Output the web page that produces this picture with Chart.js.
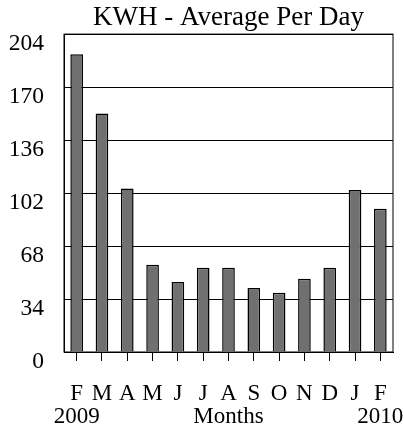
<!DOCTYPE html>
<html>
<head>
<meta charset="utf-8">
<script src="https://cdn.jsdelivr.net/npm/chart.js@4"></script>
<style>
  html, body { margin: 0; padding: 0; background: #fff; }
  #wrap { width: 404px; height: 434px; }
</style>
</head>
<body>
<div id="wrap"><canvas id="kwhChart"></canvas></div>
<script>
// chart data
const months = ['F', 'M', 'A', 'M', 'J', 'J', 'A', 'S', 'O', 'N', 'D', 'J', 'F'];
const subLabels = ['2009', '', '', '', '', '', 'Months', '', '', '', '', '', '2010'];
const kwhPerDay = [191, 153, 105, 56, 45, 54, 54, 41, 38, 47, 54, 104, 92];
const yMin = 0;
const yMax = 204;
const yStep = 34;

const serif = "'Liberation Serif', 'Times New Roman', serif";

// outline round the plot area
const frame = {
  id: 'frame',
  afterDraw(chart) {
    const a = chart.chartArea;
    const c = chart.ctx;
    c.save();
    c.strokeStyle = '#000';
    c.lineWidth = 1;
    c.strokeRect(a.left, a.top, a.right - a.left, a.bottom - a.top);
    c.restore();
  }
};

new Chart(document.getElementById('kwhChart'), {
  type: 'bar',
  data: {
    labels: months.map((m, i) => [m, subLabels[i]]),
    datasets: [{
      label: 'KWH',
      data: kwhPerDay,
      backgroundColor: '#707070',
      borderColor: '#000',
      borderWidth: 1.5,
      barPercentage: 0.5,
      categoryPercentage: 1
    }]
  },
  options: {
    responsive: true,
    maintainAspectRatio: false,
    animation: false,
    layout: { padding: { left: 9, right: 11, top: 0, bottom: 0 } },
    plugins: {
      legend: { display: false },
      tooltip: { enabled: false },
      title: {
        display: true,
        fullSize: false,
        text: 'KWH - Average Per Day',
        color: '#000',
        font: { family: serif, size: 27, weight: 'normal', lineHeight: 1.15 },
        padding: { top: 2, bottom: 1 }
      }
    },
    scales: {
      x: {
        offset: true,
        grid: { display: true, offset: false, drawOnChartArea: false, drawTicks: true, tickLength: 9, color: '#000' },
        border: { display: true, color: '#000' },
        ticks: {
          color: '#000',
          font: { family: serif, size: 23, lineHeight: 1.0 },
          padding: 21,
          maxRotation: 0,
          autoSkip: false
        },
        afterFit(scale) {
          scale.height = 82;
          scale.paddingLeft = 0;
          scale.paddingRight = 0;
        }
      },
      y: {
        min: yMin,
        max: yMax,
        grid: { color: '#000', drawTicks: false },
        border: { display: true, color: '#000' },
        ticks: {
          stepSize: yStep,
          color: '#000',
          font: { family: serif, size: 23.5 },
          padding: 20,
          labelOffset: 10
        },
        afterFit(scale) { scale.width = 55; }
      }
    }
  },
  plugins: [frame]
});
</script>
</body>
</html>
